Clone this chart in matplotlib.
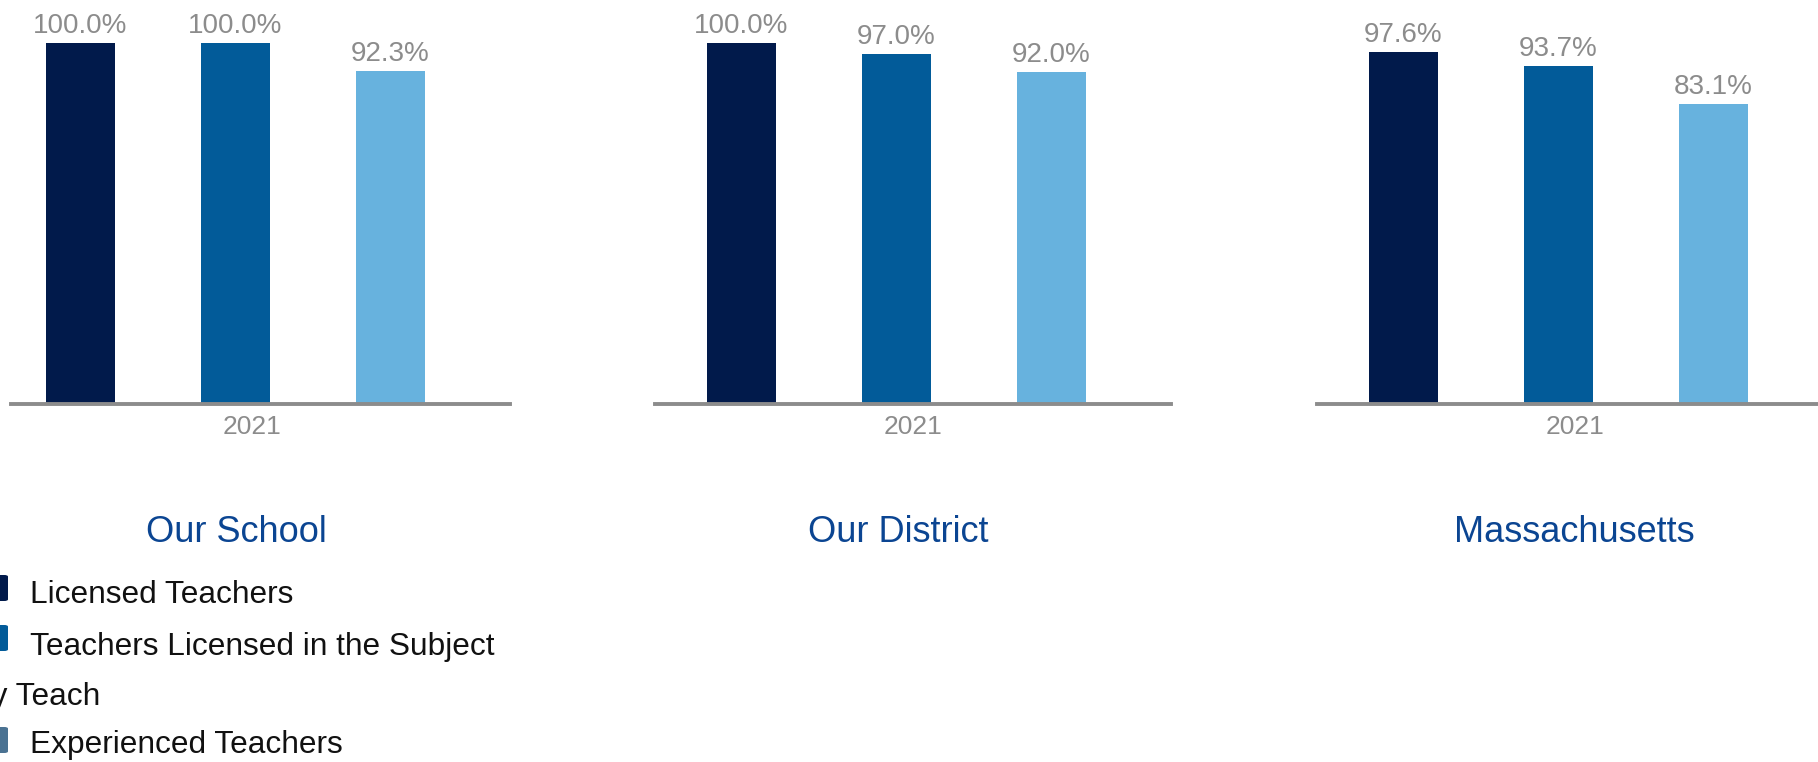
import matplotlib
matplotlib.use("Agg")
import matplotlib.pyplot as plt
from matplotlib.patches import FancyBboxPatch

plt.rcParams["font.family"] = ["Liberation Sans", "DejaVu Sans"]

# data
regions = ["Our School", "Our District", "Massachusetts"]
year_label = "2021"
licensed = [100.0, 100.0, 97.6]
licensed_subject = [100.0, 97.0, 93.7]
experienced = [92.3, 92.0, 83.1]
bar_colors = ["#011a4b", "#025b99", "#67b2de"]

legend_labels = ["Licensed Teachers", "Teachers Licensed in the Subject", "They Teach", "Experienced Teachers"]
legend_colors = ["#011a4b", "#025b99", None, "#4a7292"]

W, H = 1818, 762
fig = plt.figure(figsize=(W / 100, H / 100), dpi=100)


def fx(px):
    return px / W


def fy(py):
    return 1 - py / H


# panel layout in pixels
panel_left = [-6, 655, 1317]
line_start = [11, 655, 1317]   # visible start of the axis line
panel_width = 516
title_x = [236, 898, 1574]
base_y, top_y = 404, 43

bar_w = 0.445
bar_step = 155  # px between bar centres
xlim = (-0.555, 2.774)

for i, name in enumerate(regions):
    ax = fig.add_axes([fx(panel_left[i]), fy(base_y), fx(panel_width), (base_y - top_y) / H])
    vals = [licensed[i], licensed_subject[i], experienced[i]]
    bars = ax.bar(range(3), vals, width=bar_w, color=bar_colors, zorder=1)
    for b, v in zip(bars, vals):
        ax.annotate(f"{v:.1f}%", (b.get_x() + b.get_width() / 2, v),
                    xytext=(0, 7), textcoords="offset points",
                    ha="center", va="baseline", fontsize=20, color="#8c8c8c")
    ax.set_xlim(*xlim)
    ax.set_ylim(0, 100)
    for s in ["top", "left", "right"]:
        ax.spines[s].set_visible(False)
    sp = ax.spines["bottom"]
    sp.set_color("#8c8c8c")
    sp.set_linewidth(2.8)
    sp.set_bounds(xlim[0] + (line_start[i] - panel_left[i]) / bar_step, xlim[1])
    ax.set_yticks([])
    ax.set_xticks([sum(xlim) / 2], [year_label])
    ax.tick_params(axis="x", length=0, pad=8, labelsize=19, labelcolor="#8c8c8c")
    fig.text(fx(title_x[i]), fy(542), name, ha="center", va="baseline",
             fontsize=26, color="#0b4592")

# legend (clipped at the left edge, as in the source)
baselines = [603, 655, 705, 753]
marker_tops = [575, 625, None, 727]
for lab, col, bl, mt in zip(legend_labels, legend_colors, baselines, marker_tops):
    if col is None:
        fig.text(fx(100), fy(bl), lab, ha="right", va="baseline", fontsize=22.8, color="#111111")
        continue
    fig.patches.append(FancyBboxPatch((fx(-12), fy(mt + 26)), fx(20), 26 / H,
                                      boxstyle="round,pad=0,rounding_size=0.002",
                                      transform=fig.transFigure, facecolor=col, edgecolor="none"))
    fig.text(fx(30), fy(bl), lab, ha="left", va="baseline", fontsize=22.8, color="#111111")

fig.savefig("out.png", dpi=100)
